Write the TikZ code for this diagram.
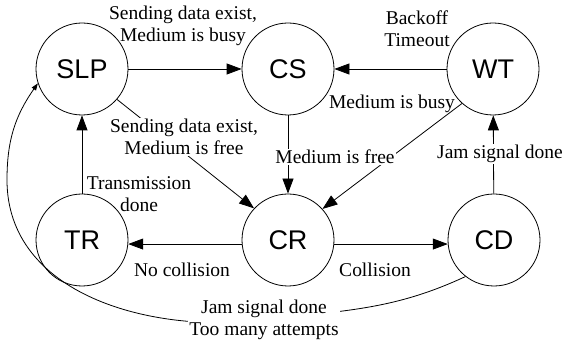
\documentclass[tikz,border=0pt]{standalone}
\usepackage{fontspec}
\setmainfont{Liberation Serif}
\newfontfamily\statefont{Liberation Sans}
\usetikzlibrary{arrows.meta}

\tikzset{
  state/.style={circle, draw, line width=0.8pt, minimum size=92pt, inner sep=0pt,
    font=\statefont\fontsize{27}{30}\selectfont},
  cond/.style={align=center, inner sep=1.5pt, font=\fontsize{19.5}{22}\selectfont},
  condcut/.style={cond, fill=white},
  trans/.style={-{Triangle[length=15pt,width=11pt]}, line width=0.8pt},
}

\begin{document}
\begin{tikzpicture}[x=1pt,y=1pt]
\useasboundingbox (0,0) rectangle (566,344);
% states
\node[state] (slp) at (82,275) {SLP};
\node[state] (cs) at (288,275) {CS};
\node[state] (wt) at (493,275) {WT};
\node[state] (tr) at (82,104) {TR};
\node[state] (cr) at (288,104) {CR};
\node[state] (cd) at (494,104) {CD};
% transitions
\draw[trans] (slp) -- (cs);
\draw[trans] (wt) -- (cs);
\draw[trans] (slp.-41) -- (cr.137);
\draw[trans] (cs) -- (cr);
\draw[trans] (wt.228) -- (cr.42);
\draw[trans] (cd) -- (wt);
\draw[trans] (tr) -- (slp);
\draw[trans] (cr.185) -- (tr.-5);
\draw[trans] (cr.-5) -- (cd.185);
\coordinate (jammid) at (264,24);
\coordinate (loopleft) at (7,164);
\draw[line width=0.8pt, -{Triangle[length=7pt,width=5pt]}]
  (cd.232) to[out=205,in=7] (jammid) to[out=187,in=270] (loopleft)
  to[out=90,in=235] (slp.198);
% conditions
\node[cond] (busydata) at (183,318) {Sending data exist,\\Medium is busy};
\node[cond] (backoff) at (417,315) {Backoff\\Timeout};
\node[condcut] (freedata) at (184,207) {Sending data exist,\\Medium is free};
\node[cond] (mbusy) at (392,240) {Medium is busy};
\node[condcut] (mfree) at (335,187) {Medium is free};
\node[condcut] (jamwt) at (500,190) {Jam signal done};
\node[cond] (trdone) at (139,150) {Transmission\\done};
\node[cond] (nocoll) at (182,74) {No collision};
\node[cond] (coll) at (375,74) {Collision};
\node[condcut] (jamslp) at (264,24) {Jam signal done\\Too many attempts};
\end{tikzpicture}
\end{document}
